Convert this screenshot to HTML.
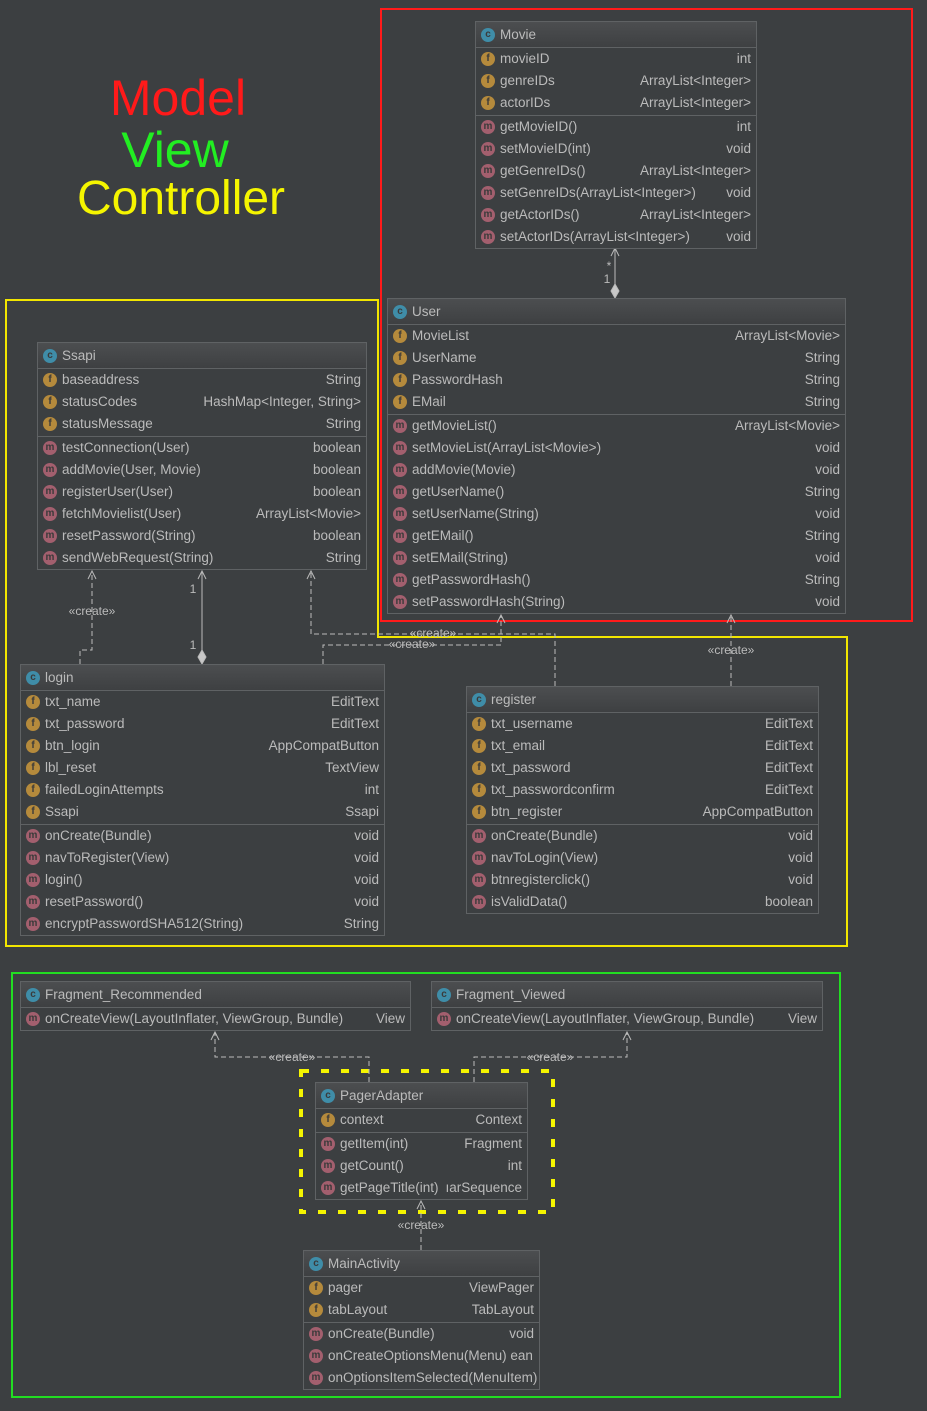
<!DOCTYPE html>
<html><head><meta charset="utf-8"><style>
body{margin:0;width:927px;height:1411px;background:#3c3f41;position:relative;overflow:hidden;font-family:"Liberation Sans",sans-serif;}
.b{position:absolute;border:1px solid #5f6264;background:#3c3f41;color:#bbbbbb;font-size:13.5px;overflow:hidden;}
.h{height:25px;line-height:25px;background:linear-gradient(#4c4e50,#3e4042);border-bottom:1px solid #5f6264;padding-left:24px;position:relative;white-space:nowrap}
.r{height:22px;line-height:22px;position:relative;padding-left:24px;padding-right:5px;white-space:nowrap}
.r span{position:absolute;right:5px;top:0}
.s{border-bottom:1px solid #5f6264;padding-bottom:1px}
.i{position:absolute;left:5px;width:14px;height:14px;border-radius:50%;font-size:10px;line-height:14px;text-align:center;color:#3a3a3a;font-weight:bold}
.h .i{top:6px;background:#3f8da8}
.r .i{top:4px}
.f .i{background:#b58a3c}
.m .i{background:#a35f6e}
svg{position:absolute;left:0;top:0}
.t{position:absolute;font-size:50px;text-align:center;width:300px;left:30px;line-height:52px}
</style></head><body>
<div class="t" style="top:72px;color:#ff1a1a;left:28px">Model</div>
<div class="t" style="top:124px;color:#22ee22;left:25px">View</div>
<div class="t" style="top:173px;color:#f5f500;font-size:48px;left:31px">Controller</div>

<svg width="927" height="1411">
<rect x="381" y="9" width="531" height="612" fill="none" stroke="#ff1a1a" stroke-width="2"/>
<polyline points="5,300 378,300 378,637 847,637 847,946 6,946 6,300" fill="none" stroke="#f2e600" stroke-width="2"/>
<rect x="12" y="973" width="828" height="424" fill="none" stroke="#22dd22" stroke-width="2"/>
<rect x="301" y="1071" width="252" height="141" fill="none" stroke="#f5f500" stroke-width="4" stroke-dasharray="8,12"/>
<g stroke="#bbbbbb" fill="none" stroke-width="1">
<line x1="615" y1="248" x2="615" y2="285"/><polyline points="611,256 615,248 619,256"/>
<polygon points="615,284 619,291 615,298 611,291" fill="#c8c8c8"/>
<line x1="202" y1="571" x2="202" y2="651"/><polyline points="198,579 202,571 206,579"/>
<polygon points="202,650 206,657 202,664 198,657" fill="#c8c8c8"/>
</g>
<g stroke="#bbbbbb" fill="none" stroke-width="1" stroke-dasharray="5,3">
<polyline points="80,664 80,650 92,650 92,571"/>
<polyline points="323,664 323,645 501,645 501,615"/>
<polyline points="555,686 555,634 311,634 311,571"/>
<polyline points="731,686 731,615"/>
<polyline points="369,1082 369,1057 215,1057 215,1032"/>
<polyline points="474,1082 474,1057 627,1057 627,1032"/>
<polyline points="421,1250 421,1201"/>
</g>
<g stroke="#bbbbbb" fill="none">
<polyline points="88,579 92,571 96,579"/><polyline points="307,579 311,571 315,579"/>
<polyline points="497,623 501,615 505,623"/><polyline points="727,623 731,615 735,623"/>
<polyline points="211,1040 215,1032 219,1040"/><polyline points="623,1040 627,1032 631,1040"/>
<polyline points="417,1209 421,1201 425,1209"/>
</g>
<g fill="#bbbbbb" font-family="Liberation Sans,sans-serif" font-size="12" text-anchor="middle">
<text x="609" y="270">*</text><text x="607" y="283">1</text>
<text x="193" y="593">1</text><text x="193" y="649">1</text>
<text x="92" y="615">«create»</text>
<text x="433" y="637">«create»</text>
<text x="412" y="648">«create»</text>
<text x="731" y="654">«create»</text>
<text x="292" y="1061">«create»</text>
<text x="550" y="1061">«create»</text>
<text x="421" y="1229">«create»</text>
</g>
</svg>

<div class="b" style="left:475px;top:21px;width:280px">
<div class="h"><b class="i">c</b>Movie</div>
<div class="s"><div class="r f"><b class="i">f</b>movieID<span>int</span></div><div class="r f"><b class="i">f</b>genreIDs<span>ArrayList&lt;Integer&gt;</span></div><div class="r f"><b class="i">f</b>actorIDs<span>ArrayList&lt;Integer&gt;</span></div></div>
<div><div class="r m"><b class="i">m</b>getMovieID()<span>int</span></div><div class="r m"><b class="i">m</b>setMovieID(int)<span>void</span></div><div class="r m"><b class="i">m</b>getGenreIDs()<span>ArrayList&lt;Integer&gt;</span></div><div class="r m"><b class="i">m</b>setGenreIDs(ArrayList&lt;Integer&gt;)<span>void</span></div><div class="r m"><b class="i">m</b>getActorIDs()<span>ArrayList&lt;Integer&gt;</span></div><div class="r m"><b class="i">m</b>setActorIDs(ArrayList&lt;Integer&gt;)<span>void</span></div></div>
</div>

<div class="b" style="left:387px;top:298px;width:457px">
<div class="h"><b class="i">c</b>User</div>
<div class="s"><div class="r f"><b class="i">f</b>MovieList<span>ArrayList&lt;Movie&gt;</span></div><div class="r f"><b class="i">f</b>UserName<span>String</span></div><div class="r f"><b class="i">f</b>PasswordHash<span>String</span></div><div class="r f"><b class="i">f</b>EMail<span>String</span></div></div>
<div><div class="r m"><b class="i">m</b>getMovieList()<span>ArrayList&lt;Movie&gt;</span></div><div class="r m"><b class="i">m</b>setMovieList(ArrayList&lt;Movie&gt;)<span>void</span></div><div class="r m"><b class="i">m</b>addMovie(Movie)<span>void</span></div><div class="r m"><b class="i">m</b>getUserName()<span>String</span></div><div class="r m"><b class="i">m</b>setUserName(String)<span>void</span></div><div class="r m"><b class="i">m</b>getEMail()<span>String</span></div><div class="r m"><b class="i">m</b>setEMail(String)<span>void</span></div><div class="r m"><b class="i">m</b>getPasswordHash()<span>String</span></div><div class="r m"><b class="i">m</b>setPasswordHash(String)<span>void</span></div></div>
</div>

<div class="b" style="left:37px;top:342px;width:328px">
<div class="h"><b class="i">c</b>Ssapi</div>
<div class="s"><div class="r f"><b class="i">f</b>baseaddress<span>String</span></div><div class="r f"><b class="i">f</b>statusCodes<span>HashMap&lt;Integer, String&gt;</span></div><div class="r f"><b class="i">f</b>statusMessage<span>String</span></div></div>
<div><div class="r m"><b class="i">m</b>testConnection(User)<span>boolean</span></div><div class="r m"><b class="i">m</b>addMovie(User, Movie)<span>boolean</span></div><div class="r m"><b class="i">m</b>registerUser(User)<span>boolean</span></div><div class="r m"><b class="i">m</b>fetchMovielist(User)<span>ArrayList&lt;Movie&gt;</span></div><div class="r m"><b class="i">m</b>resetPassword(String)<span>boolean</span></div><div class="r m"><b class="i">m</b>sendWebRequest(String)<span>String</span></div></div>
</div>

<div class="b" style="left:20px;top:664px;width:363px">
<div class="h"><b class="i">c</b>login</div>
<div class="s"><div class="r f"><b class="i">f</b>txt_name<span>EditText</span></div><div class="r f"><b class="i">f</b>txt_password<span>EditText</span></div><div class="r f"><b class="i">f</b>btn_login<span>AppCompatButton</span></div><div class="r f"><b class="i">f</b>lbl_reset<span>TextView</span></div><div class="r f"><b class="i">f</b>failedLoginAttempts<span>int</span></div><div class="r f"><b class="i">f</b>Ssapi<span>Ssapi</span></div></div>
<div><div class="r m"><b class="i">m</b>onCreate(Bundle)<span>void</span></div><div class="r m"><b class="i">m</b>navToRegister(View)<span>void</span></div><div class="r m"><b class="i">m</b>login()<span>void</span></div><div class="r m"><b class="i">m</b>resetPassword()<span>void</span></div><div class="r m"><b class="i">m</b>encryptPasswordSHA512(String)<span>String</span></div></div>
</div>

<div class="b" style="left:466px;top:686px;width:351px">
<div class="h"><b class="i">c</b>register</div>
<div class="s"><div class="r f"><b class="i">f</b>txt_username<span>EditText</span></div><div class="r f"><b class="i">f</b>txt_email<span>EditText</span></div><div class="r f"><b class="i">f</b>txt_password<span>EditText</span></div><div class="r f"><b class="i">f</b>txt_passwordconfirm<span>EditText</span></div><div class="r f"><b class="i">f</b>btn_register<span>AppCompatButton</span></div></div>
<div><div class="r m"><b class="i">m</b>onCreate(Bundle)<span>void</span></div><div class="r m"><b class="i">m</b>navToLogin(View)<span>void</span></div><div class="r m"><b class="i">m</b>btnregisterclick()<span>void</span></div><div class="r m"><b class="i">m</b>isValidData()<span>boolean</span></div></div>
</div>

<div class="b" style="left:20px;top:981px;width:389px">
<div class="h"><b class="i">c</b>Fragment_Recommended</div>
<div><div class="r m"><b class="i">m</b>onCreateView(LayoutInflater, ViewGroup, Bundle)<span>View</span></div></div>
</div>

<div class="b" style="left:431px;top:981px;width:390px">
<div class="h"><b class="i">c</b>Fragment_Viewed</div>
<div><div class="r m"><b class="i">m</b>onCreateView(LayoutInflater, ViewGroup, Bundle)<span>View</span></div></div>
</div>

<div class="b" style="left:315px;top:1082px;width:211px">
<div class="h"><b class="i">c</b>PagerAdapter</div>
<div class="s"><div class="r f"><b class="i">f</b>context<span>Context</span></div></div>
<div><div class="r m"><b class="i">m</b>getItem(int)<span>Fragment</span></div><div class="r m"><b class="i">m</b>getCount()<span>int</span></div><div class="r m"><b class="i">m</b>getPageTitle(int)<span>ıarSequence</span></div></div>
</div>

<div class="b" style="left:303px;top:1250px;width:235px">
<div class="h"><b class="i">c</b>MainActivity</div>
<div class="s"><div class="r f"><b class="i">f</b>pager<span>ViewPager</span></div><div class="r f"><b class="i">f</b>tabLayout<span>TabLayout</span></div></div>
<div><div class="r m"><b class="i">m</b>onCreate(Bundle)<span>void</span></div><div class="r m"><b class="i">m</b>onCreateOptionsMenu(Menu) ean</div><div class="r m" style="padding-right:0"><b class="i">m</b>onOptionsItemSelected(MenuItem)</div></div>
</div>
</body></html>
